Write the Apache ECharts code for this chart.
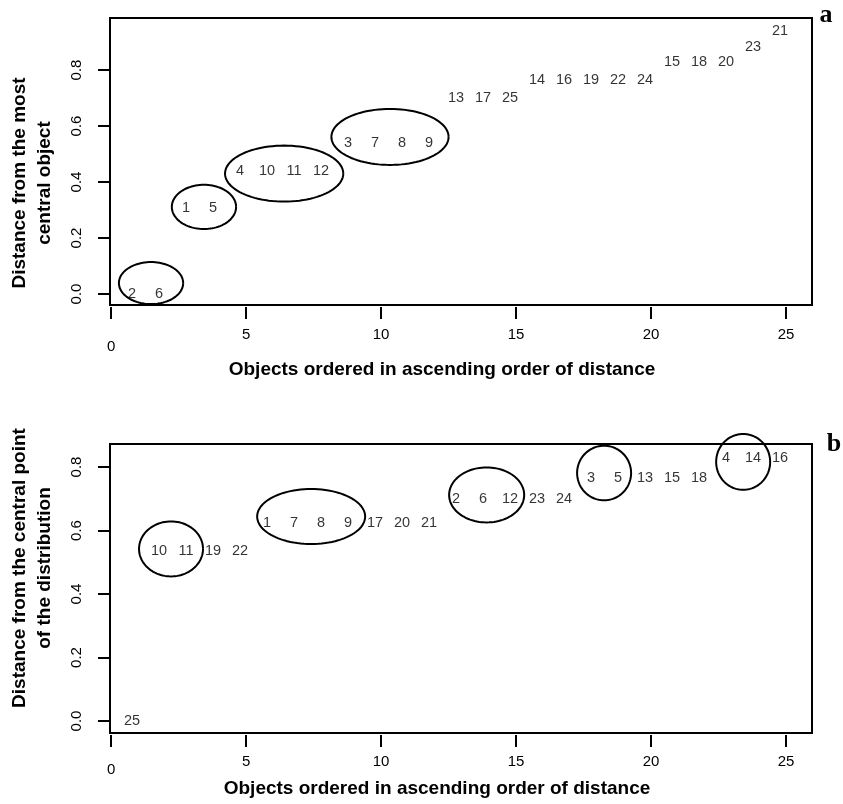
<!DOCTYPE html>
<html>
<head>
<meta charset="utf-8">
<script src="https://cdn.jsdelivr.net/npm/echarts@6/dist/echarts.min.js"></script>
<style>html,body{margin:0;padding:0;background:#fff;}#c{width:843px;height:804px;}</style>
</head>
<body>
<div id="c"></div>
<script>
// Panel a: objects ordered by distance from the most central object
var labelsA = ['2','6','1','5','4','10','11','12','3','7','8','9','13','17','25','14','16','19','22','24','15','18','20','23','21'];
var valuesA = [0,0,0.307,0.307,0.439,0.439,0.439,0.439,0.539,0.539,0.539,0.539,0.70,0.70,0.70,0.764,0.764,0.764,0.764,0.764,0.829,0.829,0.829,0.882,0.939];
// ellipses: [centerX, centerY, radiusX, radiusY] in data units
var ellipsesA = [[1.48,0.039,1.19,0.075],[3.44,0.311,1.19,0.079],[6.41,0.430,2.19,0.10],[10.33,0.561,2.17,0.10]];

// Panel b: objects ordered by distance from the central point of the distribution
var labelsB = ['25','10','11','19','22','1','7','8','9','17','20','21','2','6','12','23','24','3','5','13','15','18','4','14','16'];
var valuesB = [0,0.536,0.536,0.536,0.536,0.625,0.625,0.625,0.625,0.625,0.625,0.625,0.698,0.698,0.698,0.698,0.698,0.766,0.766,0.766,0.766,0.766,0.829,0.829,0.829];
var ellipsesB = [[2.22,0.542,1.185,0.0866],[7.41,0.644,2.0,0.0866],[13.91,0.712,1.39,0.0866],[18.26,0.781,1.0,0.086],[23.41,0.816,1.0,0.088]];

var xTicks = [0,5,10,15,20,25];
var yTicks = [0,0.2,0.4,0.6,0.8];
var xTitle = 'Objects ordered in ascending order of distance';
var yTitleA = ['Distance from the most','central object'];
var yTitleB = ['Distance from the central point','of the distribution'];

var FONT = 'Liberation Sans, Arial, sans-serif';

function pts(values, labels){
  return values.map(function(v,i){ return [i+1, v, labels[i]]; });
}

function xAxisCfg(gridIndex, zeroPad, margin){
  return {
    type:'value', gridIndex:gridIndex, min:-0.04, max:25.96,
    offset:2,
    axisLine:{show:false, onZero:false},
    splitLine:{show:false},
    axisTick:{show:true, inside:false, customValues:xTicks, length:12, lineStyle:{color:'#000', width:2}},
    axisLabel:{show:true, customValues:xTicks, margin:margin, color:'#000', fontSize:15, fontFamily:FONT,
      formatter:function(v){ return v===0 ? '{z|0}' : String(v); },
      rich:{z:{padding:[zeroPad,0,0,0], fontSize:15, fontFamily:FONT, color:'#000'}}}
  };
}
function yAxisCfg(gridIndex, min, max){
  return {
    type:'value', gridIndex:gridIndex, min:min, max:max,
    axisLine:{show:false, onZero:false},
    splitLine:{show:false},
    axisTick:{show:true, inside:false, customValues:yTicks, length:12, lineStyle:{color:'#000', width:2}},
    axisLabel:{show:true, customValues:yTicks, rotate:90, margin:26, color:'#000', fontSize:15, fontFamily:FONT,
      formatter:function(v){ return v.toFixed(1); }}
  };
}
function textSeries(idx, values, labels){
  return {
    type:'scatter', xAxisIndex:idx, yAxisIndex:idx,
    data: pts(values, labels),
    symbolSize:1,
    itemStyle:{color:'rgba(0,0,0,0)'},
    silent:true,
    label:{show:true, position:'inside', offset:[-6,0], color:'#000', fontSize:14.5, fontFamily:FONT,
      formatter:function(p){ return p.value[2]; }}
  };
}
function ellipseSeries(idx, ell){
  return {
    type:'custom', xAxisIndex:idx, yAxisIndex:idx, silent:true, clip:false,
    data: ell,
    renderItem:function(params, api){
      var c = api.coord([api.value(0), api.value(1)]);
      var s = api.size([api.value(2), api.value(3)]);
      var p = [];
      for (var k=0;k<=96;k++){
        var t = k/96*Math.PI*2;
        p.push([c[0]+s[0]*Math.cos(t), c[1]+s[1]*Math.sin(t)]);
      }
      return {type:'polyline', shape:{points:p}, style:{stroke:'#000', lineWidth:2, fill:null}};
    }
  };
}
function vText(x, y, txt){
  return {type:'text', x:x, y:y, rotation:Math.PI/2,
    style:{text:txt, fill:'#000', font:'bold 19px '+FONT, align:'center', verticalAlign:'middle'}};
}

var chart = echarts.init(document.getElementById('c'), null, {renderer:'canvas'});
chart.setOption({
  animation:false,
  backgroundColor:'#fff',
  grid:[
    {left:110, top:18, width:702, height:287, show:true, borderColor:'#000', borderWidth:2, backgroundColor:'transparent'},
    {left:110, top:444, width:702, height:289, show:true, borderColor:'#000', borderWidth:2, backgroundColor:'transparent'}
  ],
  xAxis:[xAxisCfg(0,12,20), xAxisCfg(1,8,19)],
  yAxis:[yAxisCfg(0,-0.0393,0.9857), yAxisCfg(1,-0.0378,0.8724)],
  series:[
    textSeries(0, valuesA, labelsA),
    ellipseSeries(0, ellipsesA),
    textSeries(1, valuesB, labelsB),
    ellipseSeries(1, ellipsesB)
  ],
  graphic:[
    vText(20, 183, yTitleA[0]), vText(45, 183, yTitleA[1]),
    vText(20, 568, yTitleB[0]), vText(45, 568, yTitleB[1]),
    {type:'text', x:442, y:370, style:{text:xTitle, fill:'#000', font:'bold 19px '+FONT, align:'center', verticalAlign:'middle'}},
    {type:'text', x:437, y:789, style:{text:xTitle, fill:'#000', font:'bold 19px '+FONT, align:'center', verticalAlign:'middle'}},
    {type:'text', x:826, y:15, style:{text:'a', fill:'#000', font:'bold 26px Liberation Serif, serif', align:'center', verticalAlign:'middle'}},
    {type:'text', x:834, y:444, style:{text:'b', fill:'#000', font:'bold 26px Liberation Serif, serif', align:'center', verticalAlign:'middle'}}
  ]
});
</script>
</body>
</html>
